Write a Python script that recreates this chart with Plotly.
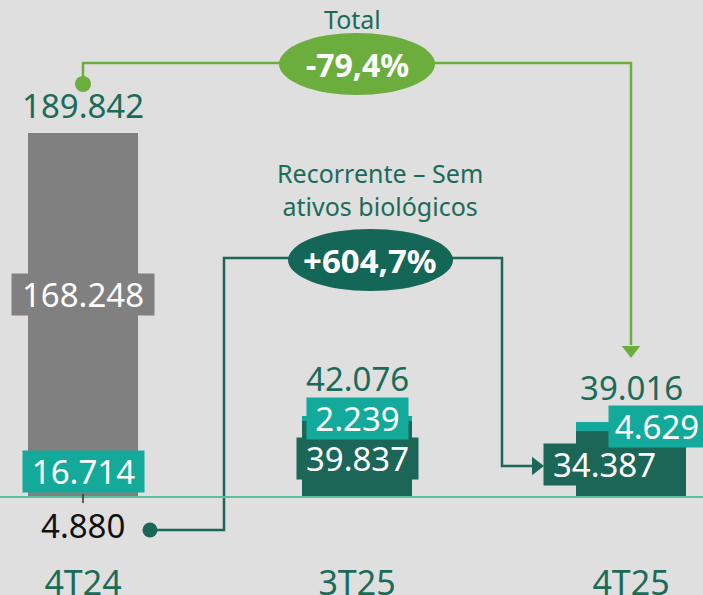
import plotly.graph_objects as go

# Recurring EBITDA-like breakdown (R$ mil)
categories = ["4T24", "3T25", "4T25"]
recorrente = [4880, 39837, 34387]
ativos_bio = [16714, 2239, 4629]
nao_recorrente = [168248, 0, 0]
totais = [189842, 42076, 39016]
var_total = "-79,4%"
var_recorrente = "+604,7%"

BG = "#dfdfdf"
GRAY = "#808080"
TEAL = "#14aa9b"
DARK = "#1c6658"
TXT = "#1b6b59"
LIME = "#6cae3e"
FONT = "Noto Sans"

# pixel helpers for the decorations (plot area = 703 x 555 px from top-left)
X0, XSTEP = 83, 274
Y0, KY = 497, 364 / 189842
PLOT_BOTTOM = 555


def xd(px):
    return (px - X0) / XSTEP


def yd(px):
    return (Y0 - px) / KY


def fmt(v):
    return f"{v:,}".replace(",", ".")


xs = list(range(len(categories)))
fig = go.Figure()
fig.add_bar(x=xs, y=recorrente, width=0.4, marker_color=[GRAY, DARK, DARK],
            marker_line_width=0)
fig.add_bar(x=xs, y=ativos_bio, width=0.4, marker_color=TEAL, marker_line_width=0)
fig.add_bar(x=xs, y=nao_recorrente, width=0.4, marker_color=GRAY, marker_line_width=0)

# connector lines
fig.add_scatter(x=[xd(83), xd(83), xd(631), xd(631)], y=[yd(84), yd(63), yd(63), yd(345)],
                mode="lines", line=dict(color=LIME, width=2.5), hoverinfo="skip")
fig.add_scatter(x=[xd(150), xd(224), xd(224), xd(502), xd(502), xd(532)],
                y=[yd(530), yd(530), yd(258), yd(258), yd(466), yd(466)],
                mode="lines", line=dict(color=DARK, width=2.5), hoverinfo="skip")
fig.add_scatter(x=[xd(83)], y=[yd(84)], mode="markers",
                marker=dict(color=LIME, size=16), hoverinfo="skip")
fig.add_scatter(x=[xd(631)], y=[yd(350)], mode="markers",
                marker=dict(color=LIME, size=16, symbol="triangle-down"), hoverinfo="skip")
fig.add_scatter(x=[xd(150)], y=[yd(530)], mode="markers",
                marker=dict(color=DARK, size=15), hoverinfo="skip")
fig.add_scatter(x=[xd(536)], y=[yd(466)], mode="markers",
                marker=dict(color=DARK, size=16, symbol="triangle-right"), hoverinfo="skip")

# baseline, small tick and the two ellipses
fig.add_shape(type="line", xref="paper", x0=0, x1=1, y0=0, y1=0,
              line=dict(color="#58c09c", width=2))
fig.add_shape(type="line", x0=0, x1=0, y0=yd(494), y1=yd(503),
              line=dict(color="#333333", width=1.5))
fig.add_shape(type="circle", x0=xd(279), x1=xd(435), y0=yd(33), y1=yd(95),
              fillcolor=LIME, line_width=0)
fig.add_shape(type="circle", x0=xd(288), x1=xd(453), y0=yd(229), y1=yd(291),
              fillcolor="#146656", line_width=0)


def box(x, y, text, color, width, xshift=0):
    fig.add_annotation(x=x, y=y, text=text, showarrow=False, xshift=xshift,
                       bgcolor=color, width=width, height=41, borderpad=0,
                       font=dict(family=FONT, size=33, color="white"))


# segment labels
box(0, recorrente[0] + ativos_bio[0] + nao_recorrente[0] / 2, fmt(nao_recorrente[0]), GRAY, 142)
box(0, recorrente[0] + ativos_bio[0] / 2, fmt(ativos_bio[0]), TEAL, 121)
box(1, recorrente[1] / 2, fmt(recorrente[1]), DARK, 121)
box(1, recorrente[1] + ativos_bio[1] / 2, fmt(ativos_bio[1]), TEAL, 101)
box(2, recorrente[2] / 2, fmt(recorrente[2]), DARK, 121, xshift=-27)
box(2, recorrente[2] + ativos_bio[2] / 2, fmt(ativos_bio[2]), TEAL, 96, xshift=26)
fig.add_annotation(x=0, y=0, yshift=-28, text=fmt(recorrente[0]), showarrow=False,
                   font=dict(family=FONT, size=33, color="#111111"))

# totals
for i, (t, sh) in enumerate(zip(totais, [28, 38, 35])):
    fig.add_annotation(x=i, y=t, yshift=sh, text=fmt(t), showarrow=False,
                       font=dict(family=FONT, size=33, color=TXT))

# variation badges
fig.add_annotation(x=xd(352), y=yd(19), text="Total", showarrow=False,
                   font=dict(family=FONT, size=25, color=TXT))
fig.add_annotation(x=xd(380), y=yd(189), text="Recorrente – Sem<br>ativos biológicos",
                   showarrow=False, font=dict(family=FONT, size=25, color=TXT))
fig.add_annotation(x=xd(357), y=yd(64), text=f"<b>{var_total}</b>", showarrow=False,
                   font=dict(family=FONT, size=32, color="white"))
fig.add_annotation(x=xd(370), y=yd(260), text=f"<b>{var_recorrente}</b>", showarrow=False,
                   font=dict(family=FONT, size=33, color="white"))

fig.update_layout(
    width=703, height=595, barmode="stack", showlegend=False,
    paper_bgcolor=BG, plot_bgcolor=BG,
    margin=dict(l=0, r=0, t=0, b=595 - PLOT_BOTTOM),
    xaxis=dict(range=[xd(0), xd(703)], tickvals=xs, ticktext=categories,
               showgrid=False, zeroline=False, ticks="", ticklabelstandoff=5,
               automargin=False, tickfont=dict(family=FONT, size=34, color=TXT)),
    yaxis=dict(range=[yd(PLOT_BOTTOM), yd(0)], visible=False, automargin=False),
)

fig.write_html("out.html", config={"displayModeBar": False},
               post_script="document.body.style.margin='0';")
